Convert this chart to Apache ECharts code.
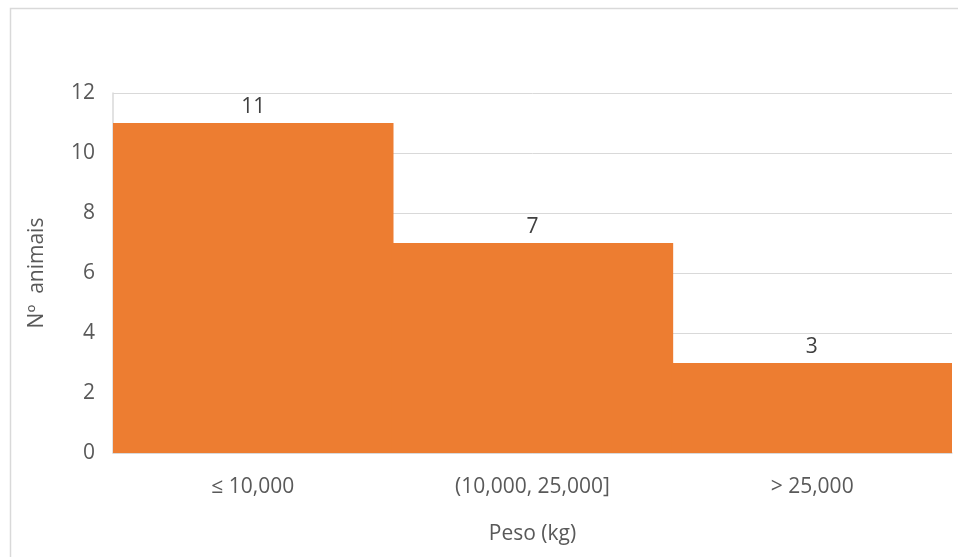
<!DOCTYPE html>
<html>
<head>
<meta charset="utf-8">
<script src="https://cdn.jsdelivr.net/npm/echarts@6/dist/echarts.min.js"></script>
<style>
  html, body { margin: 0; padding: 0; background: #fff; }
  #chart { width: 958px; height: 557px; }
</style>
</head>
<body>
<div id="chart"></div>
<script>
// Weight classes (kg) and number of animals in each
const categories = ['≤ 10,000', '(10,000, 25,000]', '> 25,000'];
const animalCounts = [11, 7, 3];
const yTicks = { min: 0, max: 12, step: 2 };

const FONT = "'Open Sans', 'Liberation Sans', sans-serif";
const TEXT = '#595959';
const SIZE = 21;
const chart = echarts.init(document.getElementById('chart'), null, { renderer: 'canvas' });

chart.setOption({
  backgroundColor: '#ffffff',
  animation: false,
  graphic: [{
    type: 'rect',
    shape: { x: 10.5, y: 8.5, width: 960, height: 560 },
    style: { fill: 'none', stroke: '#d9d9d9', lineWidth: 1.5 },
    silent: true
  }],
  grid: { left: 113, right: 6, top: 93, bottom: 104 },
  xAxis: {
    type: 'category',
    data: categories,
    name: 'Peso (kg)',
    nameLocation: 'middle',
    nameGap: 71,
    nameTextStyle: { color: TEXT, fontSize: SIZE, fontFamily: FONT },
    axisLine: { show: true, lineStyle: { color: '#d9d9d9', width: 1.5 } },
    axisTick: { show: false },
    splitLine: { show: false },
    axisLabel: { color: TEXT, fontSize: SIZE, fontFamily: FONT, margin: 24 }
  },
  yAxis: {
    type: 'value',
    min: yTicks.min,
    max: yTicks.max,
    interval: yTicks.step,
    name: 'Nº  animais',
    nameLocation: 'middle',
    nameGap: 65,
    nameRotate: 90,
    nameTextStyle: { color: TEXT, fontSize: SIZE, fontFamily: FONT },
    axisLine: { show: true, lineStyle: { color: '#d9d9d9', width: 1.5 } },
    axisTick: { show: false },
    axisLabel: { color: TEXT, fontSize: SIZE, fontFamily: FONT, margin: 18 },
    splitLine: { lineStyle: { color: '#d9d9d9', width: 1 } }
  },
  series: [{
    type: 'bar',
    data: animalCounts,
    barCategoryGap: '-0.6%',
    itemStyle: { color: '#ED7D31' },
    label: {
      show: true,
      position: 'top',
      distance: 5,
      color: '#404040',
      fontSize: SIZE,
      fontFamily: FONT
    }
  }]
});
</script>
</body>
</html>
